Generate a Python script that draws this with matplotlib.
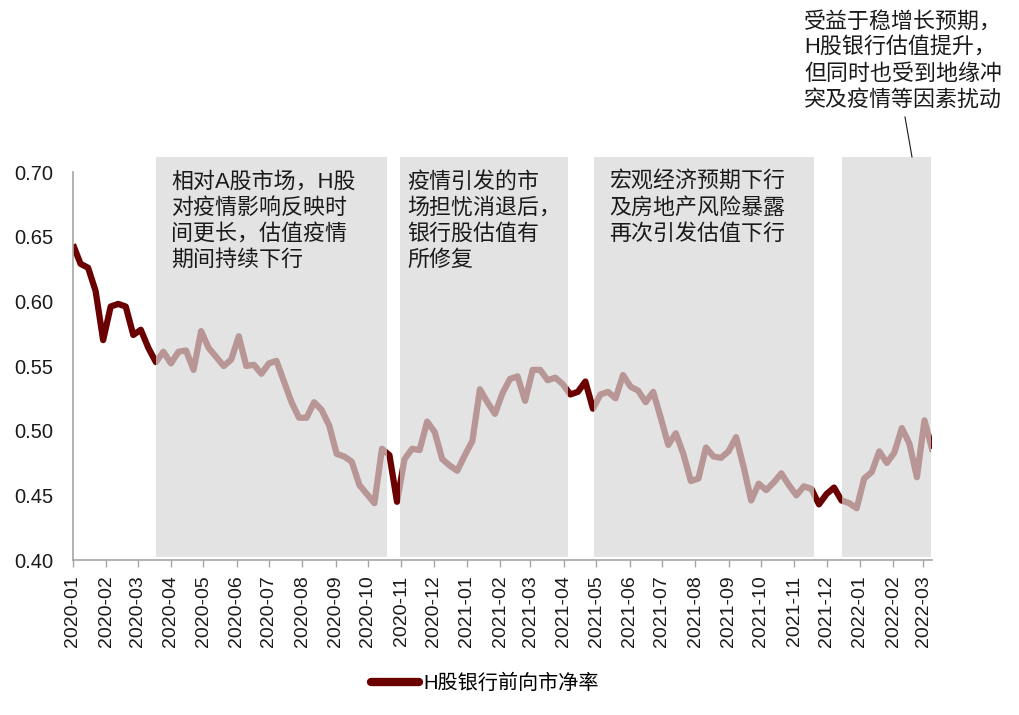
import matplotlib.pyplot as plt
import numpy as np
import pandas as pd

plt.rcParams['font.family'] = ['Liberation Sans', 'Noto Sans CJK SC']

# ----------------------------------------------------------------------
# data: weekly H-share bank forward P/B
# ----------------------------------------------------------------------
dates = pd.date_range('2020-01-03', periods=115, freq='7D')
pb = [
    0.644, 0.629, 0.626, 0.608, 0.570, 0.596, 0.598, 0.596, 0.574, 0.578,
    0.564, 0.553, 0.561, 0.552, 0.561, 0.562, 0.547, 0.577, 0.564, 0.557,
    0.550, 0.555, 0.573, 0.550, 0.551, 0.544, 0.552, 0.554, 0.538, 0.522,
    0.510, 0.510, 0.522, 0.516, 0.504, 0.482, 0.480, 0.476, 0.458, 0.451,
    0.444, 0.486, 0.481, 0.445, 0.478, 0.486, 0.485, 0.507, 0.499, 0.478,
    0.473, 0.469, 0.481, 0.492, 0.532, 0.522, 0.513, 0.529, 0.540, 0.542,
    0.523, 0.547, 0.547, 0.539, 0.541, 0.536, 0.528, 0.530, 0.538, 0.517,
    0.528, 0.530, 0.525, 0.543, 0.534, 0.531, 0.522, 0.530, 0.510, 0.489,
    0.498, 0.482, 0.461, 0.463, 0.487, 0.480, 0.479, 0.484, 0.495, 0.472,
    0.446, 0.459, 0.454, 0.460, 0.467, 0.458, 0.450, 0.457, 0.455, 0.443,
    0.451, 0.456, 0.446, 0.444, 0.440, 0.463, 0.468, 0.484, 0.475, 0.483,
    0.502, 0.490, 0.464, 0.508, 0.486,
]
series_name = 'H股银行前向市净率'

span_starts = ['2020-03-20', '2020-11-02', '2021-05-01', '2021-12-17']
span_ends = ['2020-10-21', '2021-04-07', '2021-11-21', '2022-03-10']

notes = [
    '相对A股市场，H股\n对疫情影响反映时\n间更长，估值疫情\n期间持续下行',
    '疫情引发的市\n场担忧消退后，\n银行股估值有\n所修复',
    '宏观经济预期下行\n及房地产风险暴露\n再次引发估值下行',
    '受益于稳增长预期，\nH股银行估值提升，\n但同时也受到地缘冲\n突及疫情等因素扰动',
]

# ----------------------------------------------------------------------
# plot
# ----------------------------------------------------------------------
W, H = 1020, 715
dark = '#6B0000'
light = '#B89696'
grey = '#A6A6A6'
txt = '#1A1A1A'

fig = plt.figure(figsize=(W/100, H/100), dpi=100)
ax = fig.add_axes([73/W, 1-560/H, (932-73)/W, (560-172)/H])

ax.plot(dates, pb, color=dark, lw=4.5, solid_joinstyle='round',
        solid_capstyle='butt', zorder=1)
for a, b in zip(span_starts, span_ends):
    span = ax.axvspan(pd.Timestamp(a), pd.Timestamp(b), ymin=0.008,
                      ymax=1.039, color='#E3E3E3', lw=0, zorder=2,
                      clip_on=False)
    ln, = ax.plot(dates, pb, color=light, lw=4.5, solid_joinstyle='round',
                  zorder=3)
    ln.set_clip_path(span)

ax.set_xlim(dates[0], dates[-1])
ax.set_ylim(0.40, 0.70)
ticks = pd.date_range('2020-01-01', '2022-03-01', freq='MS') \
    + pd.Timedelta(days=2)
ax.set_xticks(ticks)
ax.set_xticklabels([t.strftime('%Y-%m') for t in ticks], rotation=90)
ax.set_yticks(np.arange(0.40, 0.701, 0.05))
ax.set_yticklabels(['{:.2f}'.format(v) for v in np.arange(0.40, 0.701, 0.05)])

for s in ['top', 'right']:
    ax.spines[s].set_visible(False)
for s in ['left', 'bottom']:
    ax.spines[s].set_color(grey)
    ax.spines[s].set_linewidth(1.2)
ax.tick_params(axis='x', length=5, width=1, color=grey, labelsize=14,
               labelcolor=txt, pad=6)
ax.tick_params(axis='y', length=0, labelsize=14.5, labelcolor=txt, pad=14)

# annotations
note_pos = [(171, 172), (407, 172), (609, 172), (804, 12)]
for s, (px, py) in zip(notes, note_pos):
    fig.text(px/W, 1-py/H, s, fontsize=15.8, color=txt, ha='left', va='top',
             linespacing=1.3)
fig.add_artist(plt.Line2D([905/W, 912/W], [1-117/H, 1-157/H],
                          color=txt, lw=0.8))

# legend
handle = plt.Line2D([], [], color=dark, lw=6, solid_capstyle='round')
fig.legend([handle], [series_name], loc='center',
           bbox_to_anchor=(485/W, 1-683/H), frameon=False, fontsize=14.5,
           handlelength=2.4, handletextpad=0.2)

fig.savefig('out.png', dpi=100)
